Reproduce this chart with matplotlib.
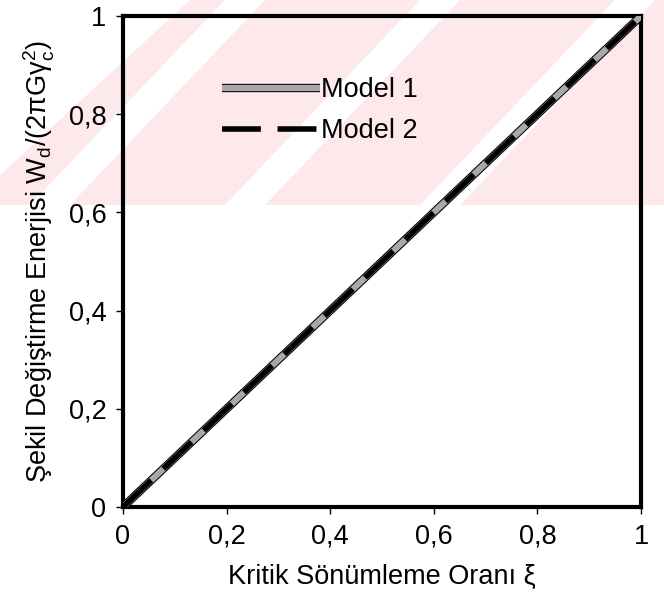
import matplotlib
matplotlib.use('Agg')
import matplotlib.pyplot as plt
import matplotlib.patheffects as pe
from matplotlib.patches import Polygon

# veri
xi = [0.0, 0.2, 0.4, 0.6, 0.8, 1.0]
model1 = [0.0, 0.2, 0.4, 0.6, 0.8, 1.0]
model2 = [0.0, 0.2, 0.4, 0.6, 0.8, 1.0]
xticks = [0, 0.2, 0.4, 0.6, 0.8, 1]
xtick_labels = ['0', '0,2', '0,4', '0,6', '0,8', '1']
yticks = [0, 0.2, 0.4, 0.6, 0.8, 1]
ytick_labels = ['0', '0,2', '0,4', '0,6', '0,8', '1']

plt.rcParams['font.family'] = ['Liberation Sans', 'DejaVu Sans']
plt.rcParams['mathtext.fontset'] = 'custom'
plt.rcParams['mathtext.rm'] = 'Liberation Sans'

fs = 19.5
fig = plt.figure(figsize=(6.64, 6.06), dpi=100)

# arka plandaki soluk pembe filigran
W, H = 664, 606
def px(x, y):
    return (x / W, 1 - y / H)
pink = '#fde9ec'
fig.patches.append(Polygon([px(0, 205), px(664, 205), px(664, 0), px(190, 0), px(0, 175)],
                           closed=True, transform=fig.transFigure,
                           facecolor=pink, edgecolor='none', zorder=0))
for x0 in [60, 255, 450]:
    fig.patches.append(Polygon([px(x0 - 30, 205), px(x0 + 10, 205),
                                px(x0 + 205, 0), px(x0 + 165, 0)],
                               closed=True, transform=fig.transFigure,
                               facecolor='white', edgecolor='none', zorder=0))

ax = fig.add_axes([123 / W, 1 - 507 / H, (641 - 123) / W, (507 - 16) / H])
ax.set_zorder(2)
ax.patch.set_alpha(0)

l1, = ax.plot(xi, model1, color='#a8a8a8', lw=4.5, solid_capstyle='butt',
              path_effects=[pe.Stroke(linewidth=6, foreground='black'), pe.Normal()],
              label='Model 1', zorder=3)
l2, = ax.plot(xi, model2, color='black', lw=4, dashes=(7, 3),
              label='Model 2', zorder=4)

ax.set_xlim(0, 1)
ax.set_ylim(0, 1)
ax.set_xticks(xticks)
ax.set_xticklabels(xtick_labels)
ax.set_yticks(yticks)
ax.set_yticklabels(ytick_labels)
ax.tick_params(direction='out', length=5, width=1, labelsize=fs, pad=7)
for s in ax.spines.values():
    s.set_linewidth(3)

ax.set_xlabel('Kritik Sönümleme Oranı ξ', fontsize=fs, labelpad=10)
ax.set_ylabel(r'Şekil Değiştirme Enerjisi W$_\mathregular{d}$/(2πGγ$_\mathregular{c}^\mathregular{2}$)',
              fontsize=fs, labelpad=8)

ax.legend(handles=[l1, l2], loc='upper left', bbox_to_anchor=(0.145, 0.925),
          frameon=False, fontsize=fs, handlelength=3.6, handletextpad=0.05,
          labelspacing=0.55)

fig.savefig('out.png', dpi=100)
